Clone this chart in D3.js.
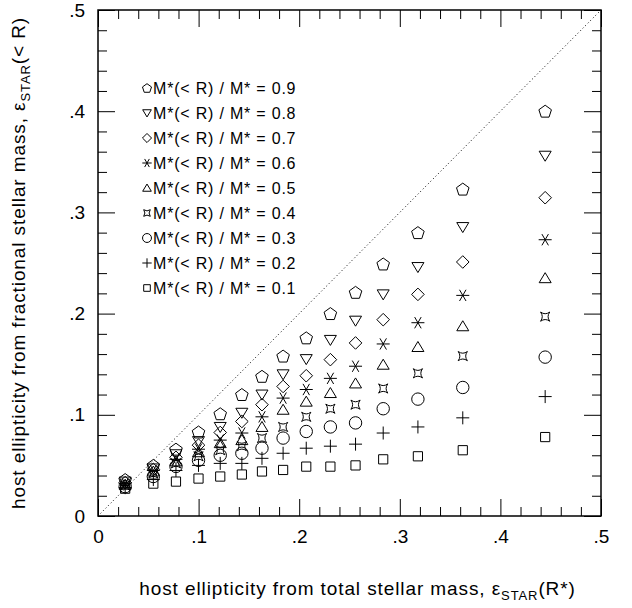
<!DOCTYPE html>
<html>
<head>
<meta charset="utf-8">
<script src="https://cdn.jsdelivr.net/npm/d3@7"></script>
<style>
  body { margin: 0; background: #fff; }
  svg text { font-family: "Liberation Sans", Arial, Helvetica, sans-serif; fill: #000; }
</style>
</head>
<body>
<div id="chart"></div>
<script>
// epsilon_STAR(R*) for each galaxy column (x axis)
const epsTotal = [0.027, 0.055, 0.0775, 0.0999, 0.1215, 0.143, 0.163, 0.184, 0.207, 0.231, 0.256, 0.2835, 0.318, 0.3626, 0.4445];

// epsilon_STAR(< R) for each fractional mass cut (y axis)
const frac09 = [0.036, 0.050, 0.066, 0.083, 0.101, 0.120, 0.138, 0.158, 0.176, 0.200, 0.221, 0.249, 0.280, 0.323, 0.400];
const frac08 = [0.034, 0.047, 0.061, 0.074, 0.088, 0.102, 0.120, 0.140, 0.155, 0.174, 0.193, 0.219, 0.246, 0.2855, 0.356];
const frac07 = [0.033, 0.046, 0.058, 0.070, 0.0825, 0.0934, 0.110, 0.128, 0.1386, 0.1545, 0.171, 0.194, 0.219, 0.251, 0.3145];
const frac06 = [0.032, 0.045, 0.056, 0.066, 0.075, 0.082, 0.098, 0.1165, 0.125, 0.136, 0.148, 0.170, 0.191, 0.218, 0.273];
const frac05 = [0.031, 0.044, 0.054, 0.063, 0.072, 0.075, 0.088, 0.105, 0.113, 0.1215, 0.131, 0.1495, 0.167, 0.1875, 0.235];
const frac04 = [0.030, 0.042, 0.052, 0.059, 0.065, 0.069, 0.077, 0.088, 0.098, 0.106, 0.110, 0.126, 0.141, 0.158, 0.197];
const frac03 = [0.029, 0.039, 0.049, 0.055, 0.060, 0.062, 0.067, 0.077, 0.0835, 0.088, 0.092, 0.106, 0.1155, 0.127, 0.157];
const frac02 = [0.028, 0.036, 0.045, 0.050, 0.052, 0.052, 0.057, 0.062, 0.067, 0.069, 0.071, 0.082, 0.088, 0.097, 0.118];
const frac01 = [0.027, 0.032, 0.034, 0.037, 0.039, 0.041, 0.044, 0.0455, 0.0488, 0.0488, 0.050, 0.056, 0.059, 0.065, 0.078];

const fractions = ["0.9", "0.8", "0.7", "0.6", "0.5", "0.4", "0.3", "0.2", "0.1"];
const symbols = ["pentagon", "triDown", "diamond", "asterisk", "triUp", "star4", "circle", "plus", "square"];
const seriesValues = [frac09, frac08, frac07, frac06, frac05, frac04, frac03, frac02, frac01];

const majorTicks = [0, 0.1, 0.2, 0.3, 0.4, 0.5];

const width = 632, height = 608;
const margin = {top: 10, right: 31, bottom: 92, left: 98};
const w = width - margin.left - margin.right;
const h = height - margin.top - margin.bottom;

const svg = d3.select("#chart").append("svg")
    .attr("width", width)
    .attr("height", height);

const g = svg.append("g")
    .attr("transform", `translate(${margin.left},${margin.top})`);

const x = d3.scaleLinear().domain([0, 0.5]).range([0, w]);
const y = d3.scaleLinear().domain([0, 0.5]).range([h, 0]);

const minorTicks = d3.range(0, 0.5001, 0.02).filter(v => Math.abs(v * 10 - Math.round(v * 10)) > 1e-6);
const fmt = d => d === 0 ? "0" : d3.format(".1f")(d).replace(/^0/, "");

// symbol paths centred on 0,0
function symbolPath(type, s) {
    let p = "";
    if (type === "pentagon") {
        const pts = d3.range(5).map(k => {
            const a = -Math.PI / 2 + k * 2 * Math.PI / 5;
            return [6.6 * s * Math.cos(a), 6.6 * s * Math.sin(a) + 0.6 * s];
        });
        p = "M" + pts.map(q => q.join(",")).join("L") + "Z";
    } else if (type === "triDown") {
        p = `M${-6 * s},${-4.5 * s}L${6 * s},${-4.5 * s}L0,${5.5 * s}Z`;
    } else if (type === "triUp") {
        p = `M${-6 * s},${4.5 * s}L${6 * s},${4.5 * s}L0,${-5.5 * s}Z`;
    } else if (type === "diamond") {
        const r = 6.3 * s;
        p = `M0,${-r}L${r},0L0,${r}L${-r},0Z`;
    } else if (type === "asterisk") {
        const r = 6.5 * s;
        p = `M${-r},0L${r},0`;
        [60, 120].forEach(deg => {
            const a = deg * Math.PI / 180;
            p += `M${-r * Math.cos(a)},${-r * Math.sin(a)}L${r * Math.cos(a)},${r * Math.sin(a)}`;
        });
    } else if (type === "star4") {
        const r = 4.6 * s, c = 1.2 * s;
        p = `M${-r},${-r}Q0,${-c} ${r},${-r}Q${c},0 ${r},${r}Q0,${c} ${-r},${r}Q${-c},0 ${-r},${-r}Z`;
    } else if (type === "circle") {
        const r = 6.2 * s;
        p = `M${r},0A${r},${r} 0 1,1 ${-r},0A${r},${r} 0 1,1 ${r},0Z`;
    } else if (type === "plus") {
        const r = 6.5 * s;
        p = `M${-r},0L${r},0M0,${-r}L0,${r}`;
    } else if (type === "square") {
        const r = 4.6 * s;
        p = `M${-r},${-r}L${r},${-r}L${r},${r}L${-r},${r}Z`;
    }
    return p;
}

// Axes: ticks on all four sides pointing inward
function drawTicks(axisFn, transform, values, size, labels, pad) {
    const ax = axisFn.tickValues(values).tickSize(-size).tickPadding(pad || 3)
        .tickFormat(labels ? fmt : "");
    const sel = g.append("g").attr("transform", transform).call(ax);
    sel.select(".domain").remove();
    sel.selectAll(".tick line").attr("stroke", "#000").attr("stroke-width", 1);
    sel.selectAll(".tick text").style("font-size", "19px").attr("fill", "#000");
    return sel;
}

drawTicks(d3.axisBottom(x), `translate(0,${h})`, minorTicks, 9, false);
drawTicks(d3.axisBottom(x), `translate(0,${h})`, majorTicks, 17, true, 14);
drawTicks(d3.axisTop(x), "translate(0,0)", minorTicks, 9, false);
drawTicks(d3.axisTop(x), "translate(0,0)", majorTicks, 17, false);
drawTicks(d3.axisLeft(y), "translate(0,0)", minorTicks, 9, false);
drawTicks(d3.axisLeft(y), "translate(0,0)", majorTicks, 17, true, 13);
drawTicks(d3.axisRight(y), `translate(${w},0)`, minorTicks, 9, false);
drawTicks(d3.axisRight(y), `translate(${w},0)`, majorTicks, 17, false);

// Frame
g.append("rect")
    .attr("width", w)
    .attr("height", h)
    .attr("fill", "none")
    .attr("stroke", "#000")
    .attr("stroke-width", 1.5);

// one-to-one line
g.append("line")
    .attr("x1", x(0)).attr("y1", y(0))
    .attr("x2", x(0.5)).attr("y2", y(0.5))
    .attr("stroke", "#000")
    .attr("stroke-width", 1)
    .attr("stroke-dasharray", "1,2.6");

// Data points
seriesValues.forEach((vals, i) => {
    g.append("g").selectAll("path")
        .data(vals.map((v, j) => ({x: epsTotal[j], y: v})))
        .enter()
        .append("path")
        .attr("transform", d => `translate(${x(d.x)},${y(d.y)})`)
        .attr("d", symbolPath(symbols[i], 1))
        .attr("fill", "none")
        .attr("stroke", "#000")
        .attr("stroke-width", 1);
});

// Legend
const legend = svg.append("g").attr("transform", "translate(147,88)");
fractions.forEach((f, i) => {
    const row = legend.append("g").attr("transform", `translate(0,${i * 25})`);
    row.append("path")
        .attr("d", symbolPath(symbols[i], 0.72))
        .attr("fill", "none")
        .attr("stroke", "#000")
        .attr("stroke-width", 1);
    row.append("text")
        .attr("x", 6)
        .attr("dy", "0.36em")
        .style("font-size", "16px")
        .style("letter-spacing", "0.8px")
        .text(`M*(< R) / M* = ${f}`);
});

// Axis titles
const xTitle = svg.append("text")
    .attr("x", margin.left + w / 2 + 8)
    .attr("y", 595)
    .attr("text-anchor", "middle")
    .style("font-size", "19px")
    .style("letter-spacing", "0.9px");
xTitle.append("tspan").text("host ellipticity from total stellar mass, \u03b5");
xTitle.append("tspan").attr("dy", 5).style("font-size", "13px").text("STAR");
xTitle.append("tspan").attr("dy", -5).text("(R*)");

const yTitle = svg.append("text")
    .attr("transform", `translate(25,${margin.top + h / 2}) rotate(-90)`)
    .attr("text-anchor", "middle")
    .style("font-size", "19px")
    .style("letter-spacing", "0.9px");
yTitle.append("tspan").text("host ellipticity from fractional stellar mass, \u03b5");
yTitle.append("tspan").attr("dy", 5).style("font-size", "13px").text("STAR");
yTitle.append("tspan").attr("dy", -5).text("(< R)");
</script>
</body>
</html>
